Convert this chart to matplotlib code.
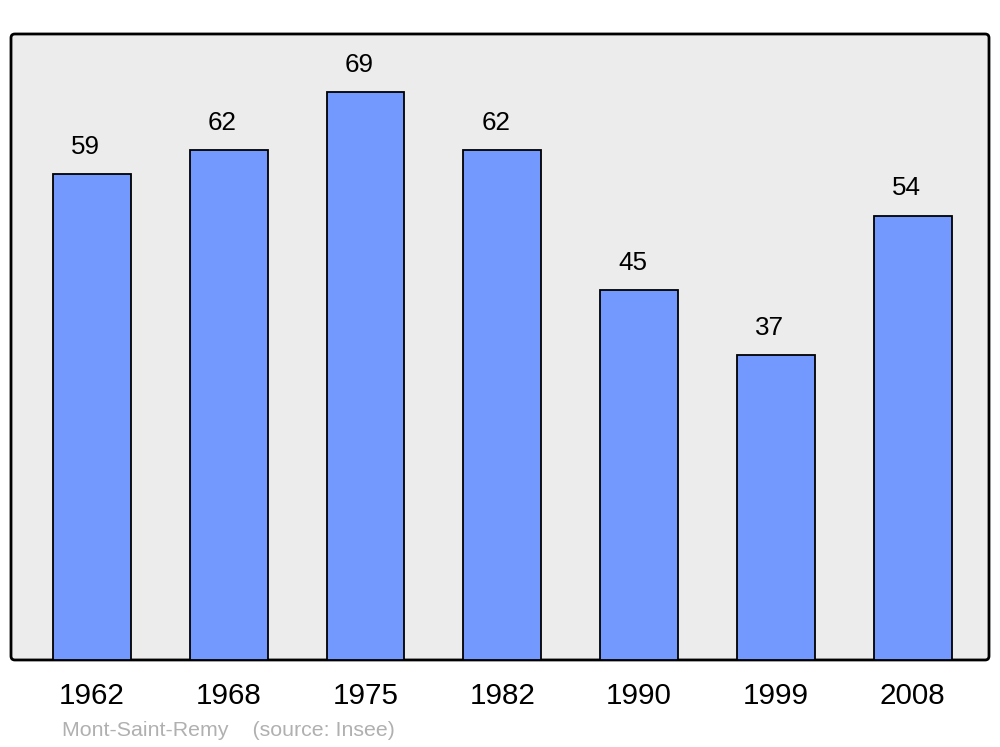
import numpy as np
import matplotlib
matplotlib.use('Agg')
import matplotlib.pyplot as plt
from matplotlib.patches import FancyBboxPatch

years = ['1962', '1968', '1975', '1982', '1990', '1999', '2008']
population = [59, 62, 69, 62, 45, 37, 54]
footer = 'Mont-Saint-Remy    (source: Insee)'

plt.rcParams['font.family'] = ['Liberation Sans', 'DejaVu Sans']

fig = plt.figure(figsize=(10, 7.47), dpi=100)
ax = fig.add_axes([0.011, 0.1165, 0.978, 0.838])
ax.set_facecolor('none')

# rounded frame instead of spines
frame = FancyBboxPatch((0, 0), 1, 1, boxstyle='round,pad=0,rounding_size=0.004',
                       mutation_aspect=978 / 626, transform=ax.transAxes,
                       facecolor='#ececec', edgecolor='black', linewidth=2,
                       zorder=0, clip_on=False)
ax.add_patch(frame)
for s in ax.spines.values():
    s.set_visible(False)

x = np.arange(len(years))
ax.bar(x, population, width=0.57, color='#7399ff', edgecolor='black',
       linewidth=1.3, zorder=2)

for xi, v in zip(x, population):
    ax.annotate(str(v), (xi, v), xytext=(-4.5, 19.5), textcoords='offset points',
                ha='center', va='center', fontsize=18.7)

ax.set_xlim(-0.592, 6.559)
ax.set_ylim(0, 76.06)
ax.set_xticks(x)
ax.set_xticklabels(years, fontsize=21.3)
ax.tick_params(axis='x', length=0, pad=16)
ax.set_yticks([])

fig.text(62, 747 - 730, footer, transform=None, fontsize=15.4,
         color='#b0b0b0', ha='left', va='center')

fig.savefig('out.png', dpi=100)
